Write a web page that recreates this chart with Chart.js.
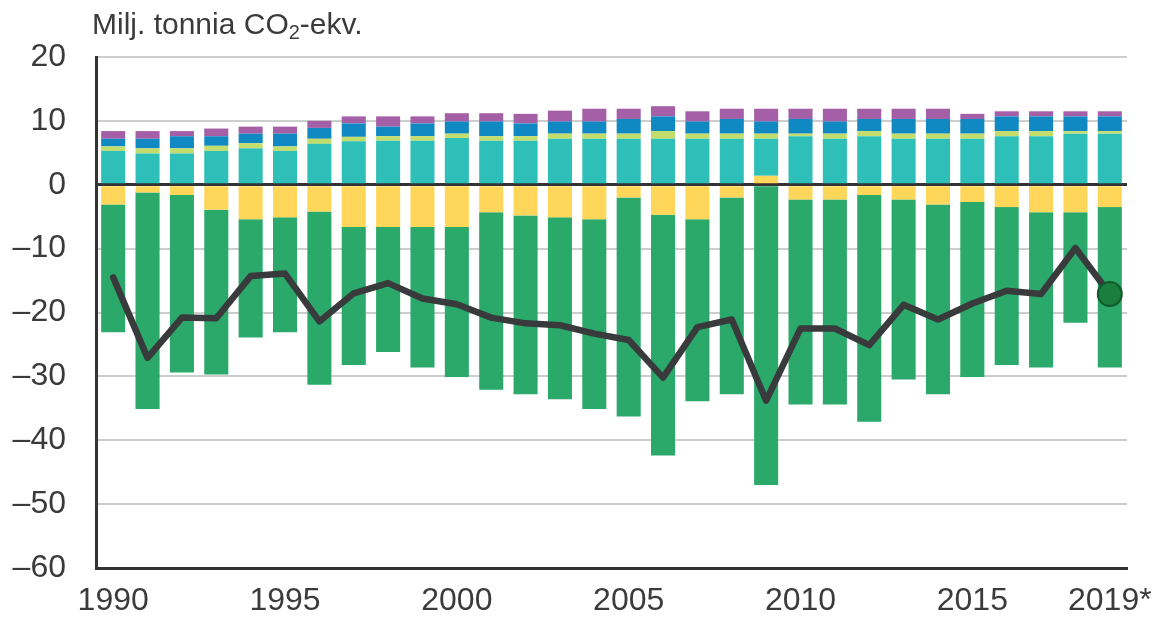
<!DOCTYPE html>
<html>
<head>
<meta charset="utf-8">
<script src="https://cdn.jsdelivr.net/npm/chart.js@4.4.0/dist/chart.umd.min.js"></script>
<style>
  html, body { margin: 0; padding: 0; background: #fff; }
  #wrap { position: relative; width: 1156px; height: 619px; }
  #otsikko {
    position: absolute; left: 92px; top: 7px;
    font-family: "Liberation Sans Narrow", "Arial Narrow", "Liberation Sans", sans-serif;
    font-size: 30px; color: #3b3b3b; white-space: nowrap;
  }
  #otsikko sub { font-size: 20px; vertical-align: -5px; line-height: 0; }
</style>
</head>
<body>
<div id="wrap">
  <canvas id="myChart" width="1156" height="619"></canvas>
  <div id="otsikko">Milj. tonnia CO<sub>2</sub>-ekv.</div>
</div>
<script>
var vuodet = ['1990','1991','1992','1993','1994','1995','1996','1997','1998','1999',
              '2000','2001','2002','2003','2004','2005','2006','2007','2008','2009',
              '2010','2011','2012','2013','2014','2015','2016','2017','2018','2019*'];
var nakyvatVuodet = ['1990','1995','2000','2005','2010','2015','2019*'];

var puutuotteet = [-3.1,-1.2,-1.6,-3.9,-5.4,-5.1,-4.2,-6.6,-6.6,-6.6,
                   -6.6,-4.3,-4.8,-5.1,-5.4,-2.0,-4.7,-5.4,-2.0,1.4,
                   -2.3,-2.3,-1.6,-2.3,-3.1,-2.7,-3.5,-4.3,-4.3,-3.5];
var metsamaa = [-20.0,-33.9,-27.8,-25.8,-18.5,-18.0,-27.1,-21.6,-19.6,-22.0,
                -23.5,-27.8,-28.0,-28.5,-29.7,-34.3,-37.7,-28.5,-30.8,-47.0,
                -32.1,-32.1,-35.5,-28.2,-29.7,-27.4,-24.7,-24.3,-17.3,-25.1];
var viljelysmaa = [5.3,4.9,4.9,5.3,5.7,5.3,6.4,6.8,6.9,6.9,
                   7.3,6.9,6.9,7.2,7.2,7.2,7.2,7.2,7.2,5.8,
                   7.6,7.2,7.6,7.2,7.2,7.2,7.6,7.6,8.0,8.0];
var ruohikko = [0.7,0.8,0.8,0.8,0.8,0.7,0.8,0.7,0.7,0.7,
                0.7,0.7,0.7,0.8,0.8,0.8,1.2,0.8,0.8,0.8,
                0.4,0.8,0.8,0.8,0.8,0.8,0.8,0.8,0.4,0.4];
var kosteikot = [1.2,1.5,1.9,1.5,1.5,2.0,1.7,2.1,1.5,2.0,
                 1.9,2.3,2.0,1.9,1.9,2.3,2.3,1.9,2.3,1.9,
                 2.3,1.9,1.9,2.3,2.3,2.3,2.3,2.3,2.3,2.3];
var rakennettu = [1.2,1.2,0.8,1.2,1.1,1.1,1.1,1.1,1.6,1.1,
                  1.3,1.3,1.5,1.7,2.0,1.6,1.6,1.6,1.6,2.0,
                  1.6,2.0,1.6,1.6,1.6,0.8,0.8,0.8,0.8,0.8];
var yhteensa = [-14.5,-27.1,-20.8,-20.9,-14.3,-13.9,-21.4,-17.0,-15.4,-17.8,
                -18.7,-20.8,-21.7,-22.0,-23.3,-24.3,-30.2,-22.3,-21.1,-33.8,
                -22.5,-22.5,-25.1,-18.8,-21.1,-18.6,-16.6,-17.1,-9.9,-17.1];

var fontti = '"Liberation Sans Narrow", "Arial Narrow", "Liberation Sans", sans-serif';
var tekstinVari = '#3b3b3b';

function pylvas(nimi, data, vari) {
  return {
    type: 'bar',
    label: nimi,
    data: data,
    backgroundColor: vari,
    borderWidth: 0,
    stack: 'pylvaat',
    order: 1,
    barPercentage: 0.7,
    categoryPercentage: 1.0
  };
}

var ctx = document.getElementById('myChart').getContext('2d');
var chart = new Chart(ctx, {
  data: {
    labels: vuodet,
    datasets: [
      pylvas('Puutuotteet', puutuotteet, '#fed75a'),
      pylvas('Viljelysmaa', viljelysmaa, '#2fbfb9'),
      pylvas('Ruohikkoalueet', ruohikko, '#c3dd6c'),
      pylvas('Kosteikot', kosteikot, '#1089c3'),
      pylvas('Rakennettu maa', rakennettu, '#a55fa7'),
      pylvas('Metsämaa', metsamaa, '#2aa96b'),
      {
        type: 'line',
        label: 'Yhteensä',
        data: yhteensa,
        stack: 'netto',
        order: 0,
        borderColor: '#383a3c',
        borderWidth: 6.5,
        tension: 0,
        borderJoinStyle: 'round',
        borderCapStyle: 'round',
        pointRadius: function(c) { return c.dataIndex === yhteensa.length - 1 ? 12 : 0; },
        pointBackgroundColor: '#1b7d3e',
        pointBorderColor: '#0f5a2a',
        pointBorderWidth: 2
      }
    ]
  },
  options: {
    responsive: false,
    animation: false,
    layout: { padding: { top: 57, right: 29, left: 0, bottom: 0 } },
    plugins: { legend: { display: false }, tooltip: { enabled: false } },
    scales: {
      x: {
        stacked: true,
        grid: { display: false, drawTicks: false },
        border: { display: true, color: '#333', width: 3 },
        ticks: {
          autoSkip: false, maxRotation: 0, padding: 14,
          color: tekstinVari,
          font: { family: fontti, size: 32 },
          callback: function(v, i) {
            var l = vuodet[i];
            return nakyvatVuodet.indexOf(l) >= 0 ? l : '';
          }
        },
        afterFit: function(s) { s.height = 51; s.paddingLeft = 0; s.paddingRight = 0; }
      },
      y: {
        stacked: true,
        min: -60, max: 20,
        grid: {
          drawTicks: false,
          color: function(c) { return c.tick.value === 0 ? '#333' : '#cdcdcd'; },
          lineWidth: function(c) { return c.tick.value === 0 ? 3 : 2; }
        },
        border: { display: true, color: '#333', width: 3 },
        ticks: {
          stepSize: 5, padding: 30,
          color: tekstinVari,
          font: { family: fontti, size: 32 },
          callback: function(v) {
            if (v % 10 !== 0) return '';
            return v < 0 ? '\u2013' + Math.abs(v) : String(v);
          }
        },
        afterFit: function(s) { s.width = 96; }
      }
    }
  }
});
</script>
</body>
</html>
